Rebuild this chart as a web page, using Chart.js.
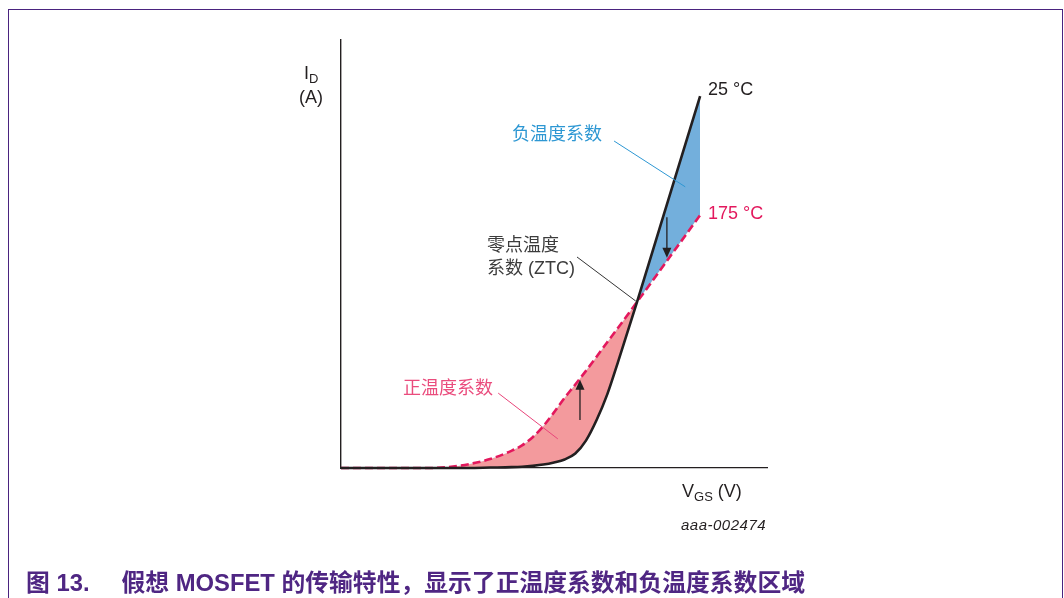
<!DOCTYPE html>
<html>
<head>
<meta charset="utf-8">
<script src="https://cdn.jsdelivr.net/npm/chart.js@4.4.1/dist/chart.umd.min.js"></script>
<style>
  html, body { margin: 0; padding: 0; background: #fff; }
  #wrap { position: relative; width: 1064px; height: 598px; overflow: hidden;
          font-family: "Liberation Sans", Arial, "Noto Sans CJK SC", sans-serif; }
  #frame { position: absolute; left: 8px; top: 9px; width: 1053px; height: 620px;
           border: 1.5px solid #4a237f; }
  canvas { position: absolute; left: 0; top: 0; }
  .lbl { position: absolute; white-space: nowrap; font-size: 18px; line-height: 18px; }
  .lbl sub { font-size: 13px; vertical-align: -4px; line-height: 0; }
  #caption { position: absolute; left: 26px; top: 570px; font-size: 23.8px; line-height: 26px;
             font-weight: bold; color: #4f2683; white-space: nowrap;
             font-family: "Liberation Sans", Arial, "Noto Sans CJK SC", sans-serif; }
</style>
</head>
<body>
<div id="wrap">
  <div id="frame"></div>
  <canvas id="transferChart" width="1064" height="598"></canvas>

  <div class="lbl" style="left:304px; top:64px; color:#231f20;">I<sub>D</sub></div>
  <div class="lbl" style="left:299px; top:88px; color:#231f20;">(A)</div>
  <div class="lbl" style="left:682px; top:482px; color:#231f20;">V<sub>GS</sub> (V)</div>
  <div class="lbl" style="left:681px; top:516px; font-size:15px; font-style:italic; color:#231f20; letter-spacing:0.5px;">aaa-002474</div>

  <div class="lbl" style="left:708px; top:80px; color:#231f20;">25 °C</div>
  <div class="lbl" style="left:708px; top:204px; color:#e3185d;">175 °C</div>
  <div class="lbl" style="left:512px; top:125px; color:#2d97d3;">负温度系数</div>
  <div class="lbl" style="left:487px; top:236px; color:#3c3c3c;">零点温度</div>
  <div class="lbl" style="left:487px; top:259px; color:#3c3c3c;">系数 (ZTC)</div>
  <div class="lbl" style="left:403px; top:379px; color:#ea4c7d;">正温度系数</div>

  <div id="caption">图 13.<span style="display:inline-block; width:32px;"></span>假想 MOSFET 的传输特性，显示了正温度系数和负温度系数区域</div>
</div>

<script>
// gate-source voltage (arbitrary units), drain current at 25 °C and 175 °C
const vgs   = [0, 2.0, 2.5, 3.0, 3.5, 4.0, 4.25, 4.5, 4.75, 5.0, 5.25, 5.5, 5.75, 6.0, 6.25, 6.5, 6.95, 7.5, 8.43];
const id25  = [0, 0,   0,   0,   0.01, 0.02, 0.03, 0.05, 0.08, 0.13, 0.20, 0.34, 0.64, 1.12, 1.72, 2.47, 3.88, 5.67, 8.69];
const id175 = [0, 0,   0.02, 0.09, 0.21, 0.40, 0.53, 0.72, 0.98, 1.30, 1.64, 1.95, 2.27, 2.60, 2.94, 3.27, 3.88, 4.63, 5.91];

// leader lines [x1, y1, x2, y2] in data units, and the two shift arrows [x, yFrom, yTo]
const leaders = [
    { pts: [6.41, 7.64, 8.08, 6.57], color: '#2d97d3' },
    { pts: [5.54, 4.93, 6.92, 3.90], color: '#333333' },
    { pts: [3.69, 1.75, 5.09, 0.68], color: '#e8457a' }
];
const arrows = [
    [5.61, 1.12, 2.06],
    [7.65, 5.86, 4.91]
];

const toPoints = (ys) => vgs.map((x, i) => ({ x: x, y: ys[i] }));

const annotate = {
    id: 'annotate',
    afterDatasetsDraw(chart) {
        const ctx = chart.ctx;
        const sx = chart.scales.x, sy = chart.scales.y;
        ctx.save();
        leaders.forEach(l => {
            ctx.beginPath();
            ctx.strokeStyle = l.color;
            ctx.lineWidth = 1;
            ctx.moveTo(sx.getPixelForValue(l.pts[0]), sy.getPixelForValue(l.pts[1]));
            ctx.lineTo(sx.getPixelForValue(l.pts[2]), sy.getPixelForValue(l.pts[3]));
            ctx.stroke();
        });
        arrows.forEach(a => {
            const x = sx.getPixelForValue(a[0]);
            const y0 = sy.getPixelForValue(a[1]);
            const y1 = sy.getPixelForValue(a[2]);
            const dir = y1 < y0 ? 1 : -1;
            ctx.beginPath();
            ctx.strokeStyle = '#231f20';
            ctx.lineWidth = 1.3;
            ctx.moveTo(x, y0);
            ctx.lineTo(x, y1 + dir * 8);
            ctx.stroke();
            ctx.beginPath();
            ctx.fillStyle = '#231f20';
            ctx.moveTo(x, y1);
            ctx.lineTo(x - 4.5, y1 + dir * 10);
            ctx.lineTo(x + 4.5, y1 + dir * 10);
            ctx.closePath();
            ctx.fill();
        });
        ctx.restore();
    }
};

const ctx = document.getElementById('transferChart').getContext('2d');
new Chart(ctx, {
    type: 'scatter',
    data: {
        datasets: [
            {
                label: '25 °C',
                data: toPoints(id25),
                showLine: true,
                borderColor: '#231f20',
                borderWidth: 2.6,
                pointRadius: 0,
                cubicInterpolationMode: 'monotone',
                clip: 6,
                fill: { target: 1, above: '#73afdc', below: '#f39a9d' }
            },
            {
                label: '175 °C',
                data: toPoints(id175),
                showLine: true,
                borderColor: '#e3185d',
                borderWidth: 2.6,
                borderDash: [8, 4],
                pointRadius: 0,
                cubicInterpolationMode: 'monotone',
                clip: 6,
                fill: false
            }
        ]
    },
    options: {
        responsive: false,
        animation: false,
        devicePixelRatio: 1,
        layout: { padding: { left: 341, right: 297, top: 40, bottom: 130 } },
        scales: {
            x: {
                type: 'linear', min: 0, max: 10,
                ticks: { display: false },
                grid: { display: false, drawTicks: false },
                border: { display: true, color: '#231f20', width: 1.2 }
            },
            y: {
                type: 'linear', min: 0, max: 10,
                ticks: { display: false },
                grid: { display: false, drawTicks: false },
                border: { display: true, color: '#231f20', width: 1.4 }
            }
        },
        plugins: {
            legend: { display: false },
            tooltip: { enabled: false },
            filler: { drawTime: 'beforeDatasetsDraw' }
        }
    },
    plugins: [annotate]
});
</script>
</body>
</html>
